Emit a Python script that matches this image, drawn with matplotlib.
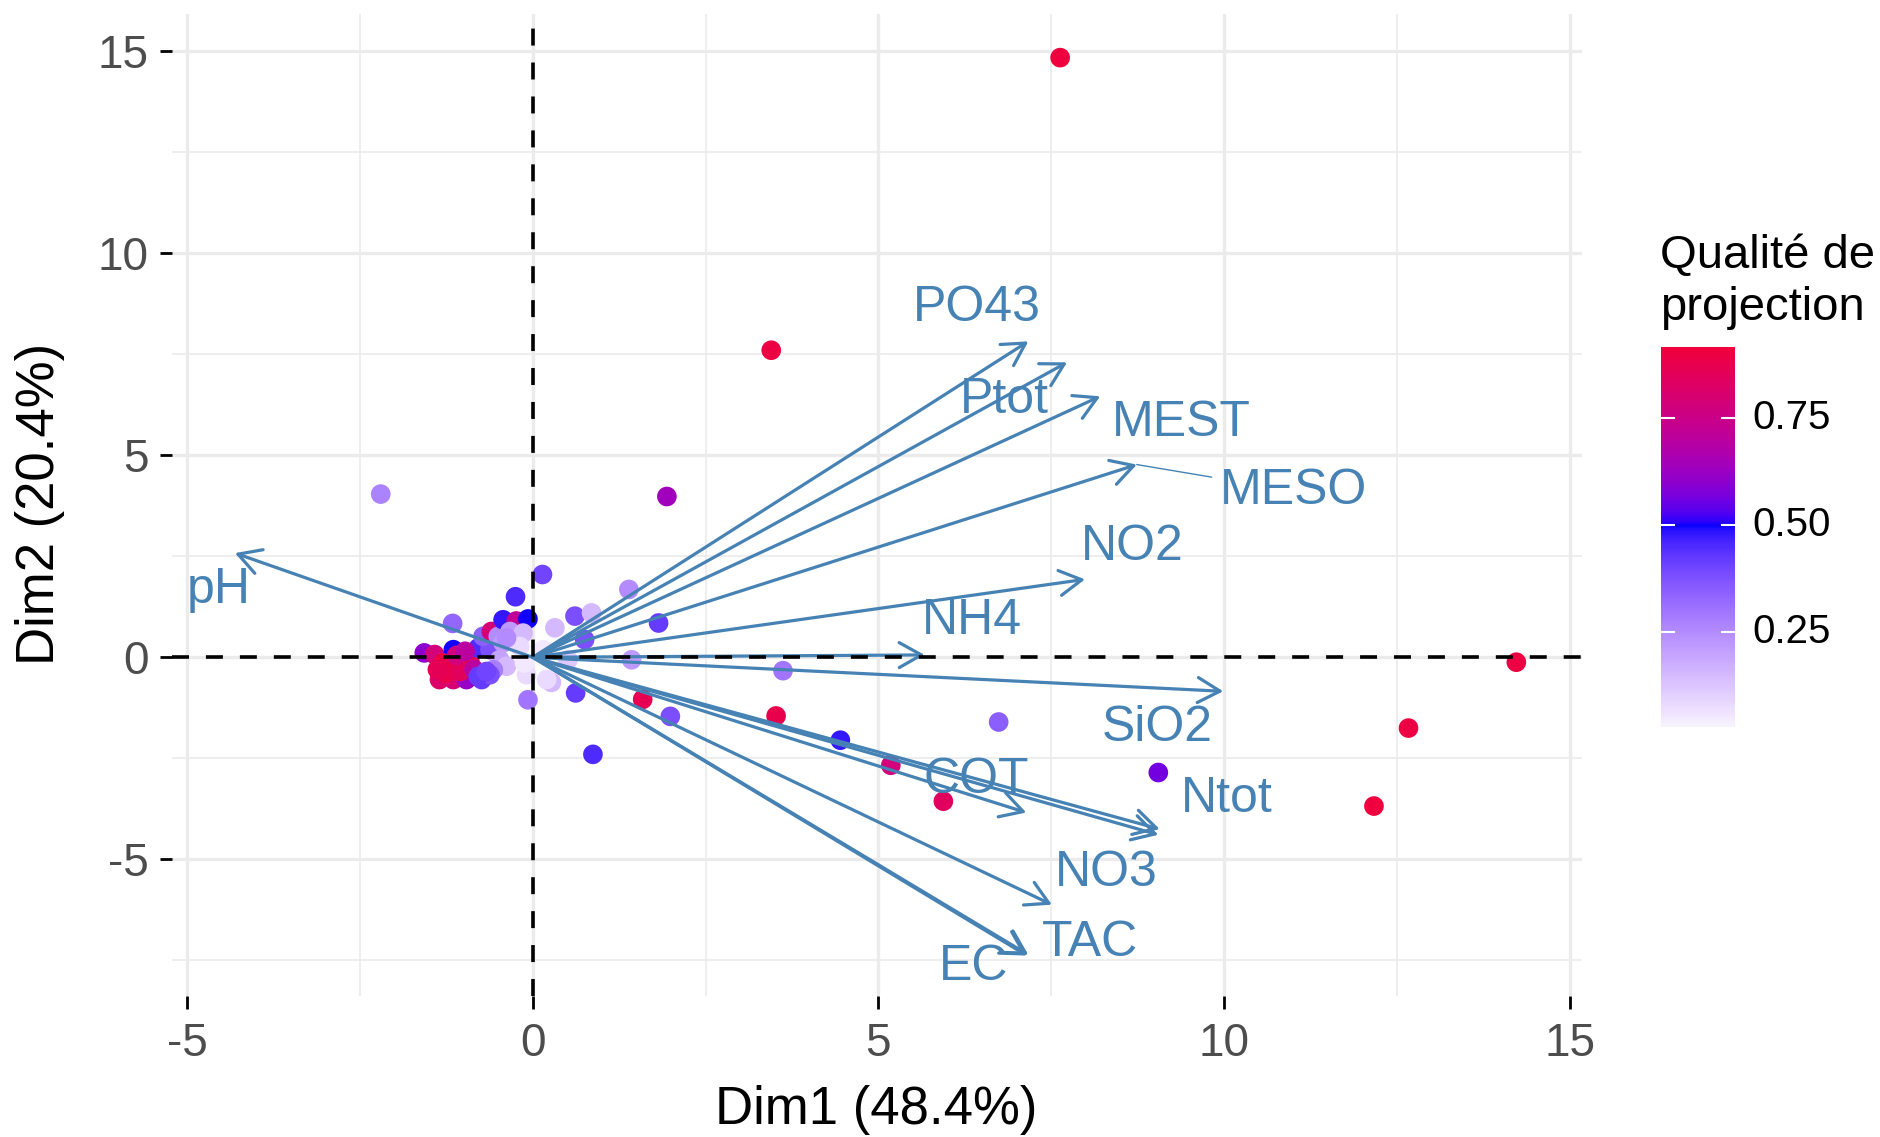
import numpy as np
import matplotlib
matplotlib.use('Agg')
import matplotlib.pyplot as plt
from matplotlib.colors import ListedColormap, Normalize

plt.rcParams['font.family'] = ['Liberation Sans', 'DejaVu Sans']

# ---------------- data ----------------
ind_x = [7.63, 3.45, 1.94, -2.20, 0.14, -0.25, 1.82, 1.39, 14.23, 12.67, 12.17,
         9.05, 6.74, 4.45, 5.18, 5.94, 3.52, 1.99, 1.59, 0.87, 3.62, -0.07,
         0.61, 0.85, 0.32, 1.43, 0.27, 0.62, 0.75, 0.51, -0.09,
         -1.57, -1.42, -1.35, -1.15, -1.30, -1.20, -1.15, -1.01, -0.91, -0.96,
         -0.74, -0.79, -0.62, -0.72, -0.60, -0.50, -0.43, -1.16, -0.43, -0.24,
         -0.07, -0.33, -0.14, -0.19, -0.48, -0.38, -0.57, -0.12, 0.15, 0.20,
         -0.62, -0.38, -1.25, -1.05, -1.38, -0.85, -1.10, -0.98, -0.79, -0.67]
ind_y = [14.84, 7.60, 3.98, 4.04, 2.05, 1.50, 0.85, 1.68, -0.12, -1.75, -3.68,
         -2.85, -1.60, -2.05, -2.67, -3.56, -1.45, -1.46, -1.04, -2.40, -0.33, -1.05,
         1.02, 1.10, 0.73, -0.06, -0.62, -0.88, 0.44, -0.06, -0.43,
         0.11, 0.07, -0.55, 0.19, -0.14, -0.22, -0.55, -0.06, -0.10, -0.55,
         -0.55, 0.23, 0.19, 0.52, 0.64, 0.52, 0.36, 0.84, 0.93, 0.90,
         0.95, 0.64, 0.60, 0.27, -0.06, -0.22, -0.31, -0.14, 0.19, -0.55,
         -0.43, 0.48, -0.40, -0.35, -0.30, -0.30, 0.05, 0.15, -0.47, -0.35]
ind_cos2 = [0.91, 0.90, 0.64, 0.27, 0.40, 0.45, 0.42, 0.25, 0.90, 0.90, 0.91,
            0.56, 0.35, 0.48, 0.78, 0.84, 0.88, 0.38, 0.87, 0.45, 0.30, 0.30,
            0.38, 0.15, 0.15, 0.22, 0.15, 0.42, 0.38, 0.12, 0.08,
            0.60, 0.78, 0.82, 0.50, 0.90, 0.88, 0.80, 0.75, 0.86, 0.62,
            0.42, 0.45, 0.38, 0.35, 0.80, 0.25, 0.22, 0.33, 0.48, 0.72,
            0.50, 0.22, 0.15, 0.08, 0.20, 0.15, 0.28, 0.05, 0.05, 0.08,
            0.38, 0.25, 0.88, 0.85, 0.86, 0.70, 0.78, 0.70, 0.42, 0.40]

var_names = ['pH', 'PO43', 'Ptot', 'MEST', 'MESO', 'NO2', 'NH4', 'SiO2',
             'COT', 'Ntot', '', 'NO3', 'TAC', 'EC']
var_x = [-4.31, 7.17, 7.73, 8.21, 8.74, 7.99, 5.67, 9.99, 7.14, 9.07, 9.05, 7.51, 7.17, 7.15]
var_y = [2.58, 7.82, 7.30, 6.46, 4.77, 1.93, 0.06, -0.84, -3.84, -4.25, -4.39, -6.12, -7.36, -7.38]
lab_x = [-4.55, 6.42, 6.83, 9.39, 11.00, 8.68, 6.36, 9.03, 6.42, 10.04, 9.05, 8.30, 8.06, 6.38]
lab_y = [1.67, 8.65, 6.38, 5.80, 4.11, 2.73, 0.89, -1.75, -3.03, -3.51, -4.39, -5.34, -7.07, -7.66]
seg_names = ['MESO']
seg_end_x = [9.82]
seg_end_y = [4.46]

xticks = [-5, 0, 5, 10, 15]
yticks = [-5, 0, 5, 10, 15]
xtick_labels = ['-5', '0', '5', '10', '15']
ytick_labels = ['-5', '0', '5', '10', '15']
cbar_ticks = [0.25, 0.50, 0.75]
cbar_labels = ['0.25', '0.50', '0.75']
cbar_min, cbar_max = 0.028, 0.916

# ---------------- palette (Lab interpolation white-blue-red) ----------------
M = np.array([[0.4124, 0.3576, 0.1805], [0.2126, 0.7152, 0.0722], [0.0193, 0.1192, 0.9505]])
WHITE = np.array([0.95047, 1.0, 1.08883])

def hex2rgb(h):
    return np.array([int(h[i:i + 2], 16) / 255 for i in (1, 3, 5)])

def rgb2lab(c):
    c = np.where(c <= 0.04045, c / 12.92, ((c + 0.055) / 1.055) ** 2.4)
    xyz = (M @ c) / WHITE
    f = np.where(xyz > 0.008856, np.cbrt(xyz), 7.787 * xyz + 16 / 116)
    return np.array([116 * f[1] - 16, 500 * (f[0] - f[1]), 200 * (f[1] - f[2])])

def lab2rgb(lab):
    L, a, b = lab
    fy = (L + 16) / 116
    f = np.array([fy + a / 500, fy, fy - b / 200])
    xyz = np.where(f ** 3 > 0.008856, f ** 3, (f - 16 / 116) / 7.787) * WHITE
    c = np.linalg.inv(M) @ xyz
    c = np.clip(c, 0, None)
    c = np.where(c <= 0.0031308, 12.92 * c, 1.055 * c ** (1 / 2.4) - 0.055)
    return np.clip(c, 0, 1)

lw_, lb_, lr_ = rgb2lab(hex2rgb('#FFFFFF')), rgb2lab(hex2rgb('#0000FF')), rgb2lab(hex2rgb('#FF0000'))
cols = []
for t in np.linspace(0, 1, 256):
    if t < 0.5:
        u = t / 0.5
        cols.append(lab2rgb(lw_ + (lb_ - lw_) * u))
    else:
        u = (t - 0.5) / 0.5
        cols.append(lab2rgb(lb_ + (lr_ - lb_) * u))
cmap = ListedColormap(cols)
norm = Normalize(0, 1)

# ---------------- figure ----------------
W, H = 1881, 1137
fig = plt.figure(figsize=(W / 100, H / 100), dpi=100)
ax = fig.add_axes([172 / W, 1 - 996 / H, (1582 - 172) / W, (996 - 14) / H])
ax.set_xlim(-5.22, 15.18)
ax.set_ylim(-8.38, 15.92)
for s in ax.spines.values():
    s.set_visible(False)

grid_c = '#EBEBEB'
for v in [-2.5, 2.5, 7.5, 12.5]:
    ax.axvline(v, color=grid_c, lw=1.2, zorder=0)
for v in [-7.5, -2.5, 2.5, 7.5, 12.5]:
    ax.axhline(v, color=grid_c, lw=1.2, zorder=0)
for v in xticks:
    ax.axvline(v, color=grid_c, lw=2.4, zorder=0)
for v in yticks:
    ax.axhline(v, color=grid_c, lw=2.4, zorder=0)

ax.set_xticks(xticks)
ax.set_xticklabels(xtick_labels)
ax.set_yticks(yticks)
ax.set_yticklabels(ytick_labels)
ax.tick_params(axis='both', length=9, width=2, color='black', labelsize=33,
               labelcolor='#4D4D4D', pad=8)
ax.tick_params(axis='x', pad=10)

# individuals
ax.scatter(ind_x, ind_y, c=ind_cos2, cmap=cmap, norm=norm, s=200,
           linewidths=0, zorder=2)

# variables
arrow_c = '#4682B4'
for x, y in zip(var_x, var_y):
    ax.annotate('', xy=(x, y), xytext=(0, 0),
                arrowprops=dict(arrowstyle='->,head_length=0.8,head_width=0.45',
                                color=arrow_c, lw=2.3, shrinkA=0, shrinkB=0,
                                mutation_scale=20),
                zorder=3)
for name, x, y in zip(var_names, lab_x, lab_y):
    if name:
        ax.text(x, y, name, color=arrow_c, fontsize=36, ha='center', va='center', zorder=5)
for name, ex, ey in zip(seg_names, seg_end_x, seg_end_y):
    i = var_names.index(name)
    ax.plot([var_x[i], ex], [var_y[i], ey], color=arrow_c, lw=1.0, zorder=3)

# dashed reference lines
ax.axhline(0, color='black', lw=2.6, ls=(0, (4.7, 4.7)), zorder=4)
ax.axvline(0, color='black', lw=2.6, ls=(0, (4.7, 4.7)), zorder=4)

# axis titles
fig.text(876 / W, 1 - 1110 / H, 'Dim1 (48.4%)', fontsize=38, ha='center', va='center')
fig.text(40 / W, 1 - 504 / H, 'Dim2 (20.4%)', fontsize=38, ha='center', va='center',
         rotation=90)

# colorbar legend
cax = fig.add_axes([1661 / W, 1 - 727 / H, 74 / W, 380 / H])
grad = np.linspace(cbar_min, cbar_max, 256)[:, None]
cax.imshow(grad, aspect='auto', cmap=cmap, norm=norm, origin='lower',
           extent=[0, 1, cbar_min, cbar_max])
cax.set_xlim(0, 1)
cax.set_ylim(cbar_min, cbar_max)
cax.axis('off')
for v, lab in zip(cbar_ticks, cbar_labels):
    cax.plot([0, 0.18], [v, v], color='white', lw=1.5)
    cax.plot([0.82, 1], [v, v], color='white', lw=1.5)
    cax.text(1.24, v, lab, fontsize=29, ha='left', va='center', color='black')
fig.text(1660 / W, 1 - 330 / H, 'Qualité de\nprojection', fontsize=34,
         ha='left', va='bottom', linespacing=1.25)

fig.savefig('out.png', dpi=100)
